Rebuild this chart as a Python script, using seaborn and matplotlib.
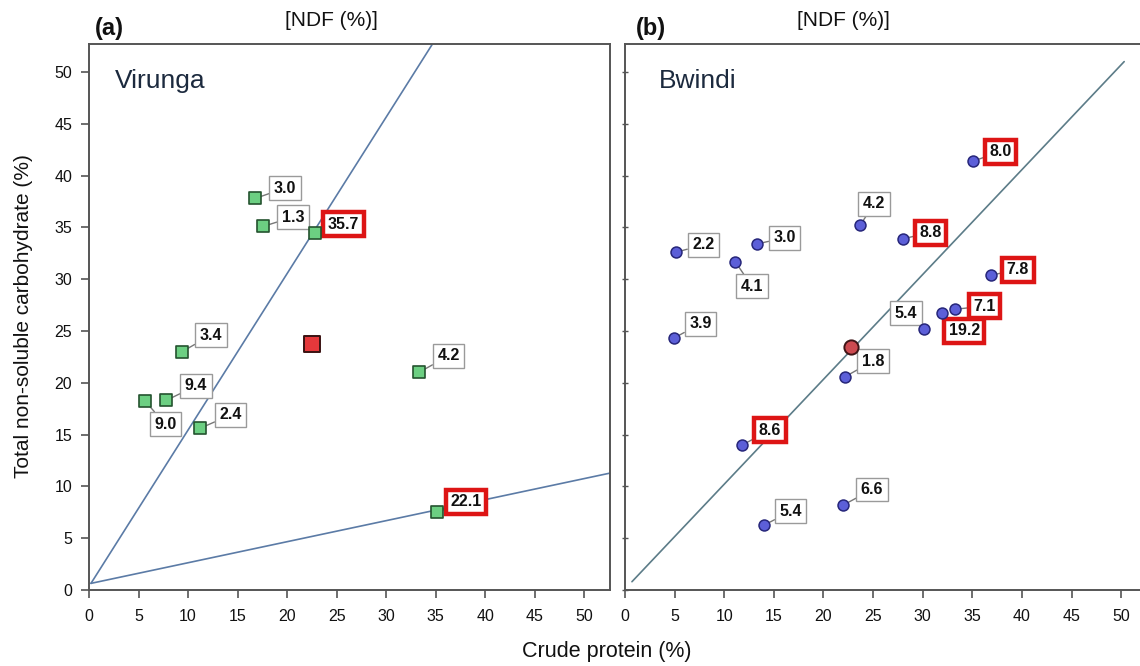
import matplotlib
matplotlib.use("Agg")
import matplotlib.pyplot as plt
import seaborn as sns
import pandas as pd

# Virunga forage samples: crude protein vs total non-soluble carbohydrate
vir_cp = [16.8, 17.6, 22.8, 9.4, 33.3, 7.8, 5.7, 11.2, 35.1]
vir_nsc = [37.8, 35.1, 34.45, 23.0, 21.0, 18.3, 18.2, 15.6, 7.5]
vir_ndf = ["3.0", "1.3", "35.7", "3.4", "4.2", "9.4", "9.0", "2.4", "22.1"]
vir_high = [False, False, True, False, False, False, False, False, True]
vir_mean = (22.5, 23.75)

# Bwindi forage samples
bwi_cp = [35.1, 23.7, 28.0, 5.1, 13.3, 11.1, 36.9, 33.3, 31.9, 30.1, 4.9, 22.2, 11.8, 22.0, 14.0]
bwi_nsc = [41.4, 35.2, 33.9, 32.6, 33.4, 31.7, 30.4, 27.1, 26.7, 25.2, 24.3, 20.6, 14.0, 8.2, 6.25]
bwi_ndf = ["8.0", "4.2", "8.8", "2.2", "3.0", "4.1", "7.8", "7.1", "19.2", "5.4",
           "3.9", "1.8", "8.6", "6.6", "5.4"]
bwi_high = [True, False, True, False, False, False, True, True, True, False,
            False, False, True, False, False]
bwi_mean = (22.8, 23.5)

# Nutrient-ratio reference lines (end points)
vir_line1_x = [0.2, 36.0]
vir_line1_y = [0.64, 54.7]
vir_line2_x = [0.2, 55.0]
vir_line2_y = [0.64, 11.77]
bwi_line_x = [0.7, 50.3]
bwi_line_y = [0.8, 51.0]

ticks = [0, 5, 10, 15, 20, 25, 30, 35, 40, 45, 50]

# label offsets (data units) from each point to its value box
vir_off = [(3.0, 1.0), (3.0, 0.9), (2.9, 0.85), (2.9, 1.6), (3.0, 1.6),
           (3.0, 1.4), (2.0, -2.2), (3.1, 1.3), (3.0, 1.0)]
bwi_off = [(2.7, 0.9), (1.4, 2.1), (2.8, 0.6), (2.8, 0.7), (2.8, 0.6),
           (1.7, -2.4), (2.7, 0.5), (2.9, 0.3), (2.3, -1.7), (-1.8, 1.5),
           (2.7, 1.4), (2.8, 1.5), (2.8, 1.4), (2.9, 1.5), (2.7, 1.35)]

sns.set_theme(style="white")
plt.rcParams["font.family"] = ["Liberation Sans", "DejaVu Sans"]

W, H = 1140, 666
fig = plt.figure(figsize=(W / 100, H / 100), dpi=100)

XMAX, YMAX = 52.6, 52.7
ax_a = fig.add_axes([89 / W, 1 - 590 / H, (610 - 89) / W, (590 - 44) / H])
ax_b = fig.add_axes([625 / W, 1 - 590 / H, 522 / W, (590 - 44) / H])

spine_col = "#555555"


def style_axes(ax, show_ylabels=True):
    ax.set_xlim(0, XMAX)
    ax.set_ylim(0, YMAX)
    ax.set_xticks(ticks)
    ax.set_yticks(ticks)
    for s in ax.spines.values():
        s.set_color(spine_col)
        s.set_linewidth(1.4)
        s.set_visible(True)
    ax.tick_params(axis="x", direction="out", length=6, width=1.2,
                   color=spine_col, labelsize=11.5, labelcolor="#111111",
                   pad=8, bottom=True)
    if show_ylabels:
        ax.tick_params(axis="y", direction="out", length=6, width=1.2,
                       color=spine_col, labelsize=11.5, labelcolor="#111111",
                       pad=6, left=True)
    else:
        ax.tick_params(axis="y", direction="inout", length=4, width=1.0,
                       color=spine_col, labelleft=False, left=True)
    ax.set_xlabel("")
    ax.set_ylabel("")
    ax.grid(False)


def annotate_points(ax, xs, ys, labels, highs, offs):
    for x, y, lab, hi, (dx, dy) in zip(xs, ys, labels, highs, offs):
        box = dict(boxstyle="square,pad=0.28", fc="white",
                   ec="#dd1515" if hi else "#9a9a9a",
                   lw=3.2 if hi else 1.0)
        ax.annotate(lab, xy=(x, y), xytext=(x + dx, y + dy),
                    ha="center", va="center", fontsize=11.5,
                    fontweight="bold", color="#111111", bbox=box,
                    arrowprops=dict(arrowstyle="-", color="#777777", lw=1.0,
                                    shrinkA=0, shrinkB=3),
                    zorder=5)


# Panel (a): Virunga
da = pd.DataFrame({"cp": vir_cp, "nsc": vir_nsc})
line_col_a = "#5b7ba6"
sns.lineplot(x=vir_line1_x, y=vir_line1_y, ax=ax_a, color=line_col_a, lw=1.2)
sns.lineplot(x=vir_line2_x, y=vir_line2_y, ax=ax_a, color=line_col_a, lw=1.2)
annotate_points(ax_a, vir_cp, vir_nsc, vir_ndf, vir_high, vir_off)
sns.scatterplot(data=da, x="cp", y="nsc", ax=ax_a, marker="s", s=80,
                color="#6ccf82", edgecolor="#24532f", linewidth=1.2, zorder=6)
sns.scatterplot(x=[vir_mean[0]], y=[vir_mean[1]], ax=ax_a, marker="s", s=125,
                color="#e5383b", edgecolor="#3a1212", linewidth=1.4, zorder=6)
style_axes(ax_a, True)
ax_a.text(0.05, 0.955, "Virunga", transform=ax_a.transAxes, fontsize=19,
          color="#1c2a3e", ha="left", va="top")

# Panel (b): Bwindi
db = pd.DataFrame({"cp": bwi_cp, "nsc": bwi_nsc})
sns.lineplot(x=bwi_line_x, y=bwi_line_y, ax=ax_b, color="#5c7c88", lw=1.2)
annotate_points(ax_b, bwi_cp, bwi_nsc, bwi_ndf, bwi_high, bwi_off)
sns.scatterplot(data=db, x="cp", y="nsc", ax=ax_b, marker="o", s=62,
                color="#5c5fd8", edgecolor="#26267a", linewidth=1.1, zorder=6)
sns.scatterplot(x=[bwi_mean[0]], y=[bwi_mean[1]], ax=ax_b, marker="o", s=105,
                color="#cc4a50", edgecolor="#3f1416", linewidth=1.4, zorder=6)
style_axes(ax_b, False)
ax_b.text(0.065, 0.955, "Bwindi", transform=ax_b.transAxes, fontsize=19,
          color="#1c2a3e", ha="left", va="top")

# Panel tags and NDF headers
fig.text(95 / W, 1 - 28 / H, "(a)", fontsize=17, fontweight="bold",
         ha="left", va="center", color="#111111")
fig.text(636 / W, 1 - 28 / H, "(b)", fontsize=17, fontweight="bold",
         ha="left", va="center", color="#111111")
fig.text(331 / W, 1 - 21 / H, "[NDF (%)]", fontsize=15, ha="center",
         va="center", color="#111111")
fig.text(843 / W, 1 - 21 / H, "[NDF (%)]", fontsize=15, ha="center",
         va="center", color="#111111")

fig.text(607 / W, 1 - 652 / H, "Crude protein (%)", fontsize=15.5,
         ha="center", va="center", color="#111111")
fig.text(24 / W, 1 - 316 / H, "Total non-soluble carbohydrate (%)", fontsize=15,
         rotation=90, ha="center", va="center", color="#111111")

fig.savefig("out.png", dpi=100)
